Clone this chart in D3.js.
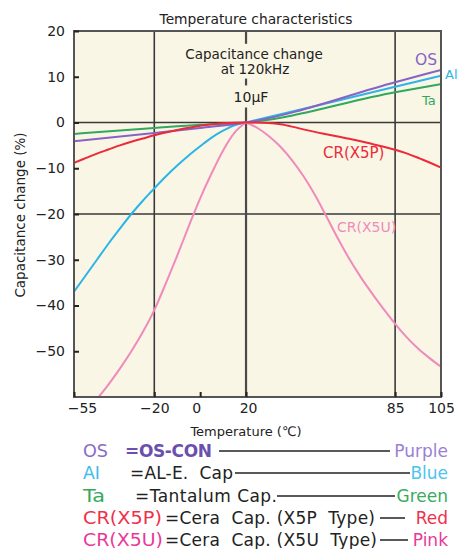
<!DOCTYPE html>
<html><head><meta charset="utf-8">
<script src="https://cdnjs.cloudflare.com/ajax/libs/d3/7.8.5/d3.min.js"></script>
<style>
html,body{margin:0;padding:0;background:#fff;}
svg text{font-family:"DejaVu Sans","Noto Sans",sans-serif;}
</style></head>
<body><div id="chart"></div>
<script>
// ---- data ----
const xTicks = [-55, -20, 0, 20, 85, 105];
const yTicks = [20, 10, 0, -10, -20, -30, -40, -50];
const xGrid = [-20, 85];
const yGrid = [0, -20];

const osTemp = [-55, -20, 0, 20, 85, 105];
const osVal  = [-4.1, -2.3, -1.2, 0, 8.8, 11.5];

const alTemp = [-55, -50, -45, -40, -35, -30, -25, -20, -15, -10, -5, 0, 5, 10, 15, 20, 85, 105];
const alVal  = [-37, -33.5, -30, -26.5, -23.2, -20, -17.1, -14.4, -11.8, -9.4, -7.2, -5.2, -3.3, -1.8, -0.6, 0, 7.8, 10.2];

const taTemp = [-55, -20, 0, 20, 85, 105];
const taVal  = [-2.5, -1.2, -0.5, 0, 6.6, 8.4];

const x5pTemp = [-55, -50, -45, -40, -35, -30, -25, -20, -15, -10, -5, 0, 5, 10, 15, 20, 25, 30, 35, 40, 45, 50, 55, 60, 65, 70, 75, 80, 85, 90, 95, 100, 105];
const x5pVal  = [-8.8, -7.8, -6.8, -5.9, -5.0, -4.2, -3.5, -2.8, -2.2, -1.65, -1.15, -0.7, -0.4, -0.15, -0.03, 0, 0, -0.1, -0.4, -0.9, -1.5, -2.05, -2.55, -3.05, -3.55, -4.1, -4.7, -5.3, -5.95, -6.75, -7.7, -8.75, -9.85];

// X5U: left branch (rising to the peak at 20 degC) and right branch (falling)
const x5uLeftTemp  = [-47, -45, -40, -35, -30, -25, -20, -15, -10, -5, 0, 5, 10, 15, 20];
const x5uLeftVal   = [-61.8, -60.5, -57.3, -53.8, -50, -45.8, -41, -35.2, -29.1, -22.7, -16.6, -11.1, -6.1, -2.2, 0];
const x5uRightTemp = [20, 25, 30, 35, 40, 45, 50, 55, 60, 65, 70, 75, 80, 85, 90, 95, 100, 105];
const x5uRightVal  = [0, -1.2, -3.0, -5.3, -8.2, -11.7, -15.8, -20.5, -25.3, -29.8, -33.8, -37.4, -40.8, -44, -46.9, -49.4, -51.5, -53.4];

const legendKeys   = ["OS", "AI", "Ta", "CR(X5P)", "CR(X5U)"];
const legendDescs  = ["=OS-CON", "=AL-E.  Cap", "=Tantalum Cap.", "=Cera  Cap. (X5P  Type)", "=Cera  Cap. (X5U  Type)"];
const legendColors = ["Purple", "Blue", "Green", "Red", "Pink"];

// ---- styles / layout ----
const lineCol = {os:"#8763c6", al:"#2db4e6", ta:"#31a85e", x5p:"#ec2a3a", x5u:"#f08abd"};
const keyCol   = ["#8a6cc8", "#3cbcec", "#36a95c", "#f0304a", "#e8399a"];
const nameCol  = ["#9b80d4", "#4cc4f0", "#3aaa5e", "#f0304a", "#e8399a"];
const keyW     = [25, 17, 22, 79, 80];
const descX    = [125, 130, 135, 165, 165];
const descW    = [87, 103, 142, 210, 212];
const lineX1   = [219, 235, 277, 380, 380];
const lineX2   = [390, 410, 395, 405, 408];
const rowY     = [457, 479, 502, 524, 546];

const W = 458, H = 549;
const svg = d3.select("#chart").append("svg").attr("width", W).attr("height", H);

const x = d3.scaleLinear().domain([-55, 105]).range([74, 441]);
const y = d3.scaleLinear().domain([-60, 20]).range([397, 31]);

// plot background
svg.append("rect").attr("x", x(-55)).attr("y", y(20))
  .attr("width", x(105) - x(-55)).attr("height", y(-60) - y(20))
  .attr("fill", "#faf6e5");

// grid lines
svg.selectAll(".vg").data(xGrid).join("line")
  .attr("x1", d => x(d)).attr("x2", d => x(d)).attr("y1", y(20)).attr("y2", y(-60))
  .attr("stroke", "#3a3a3a").attr("stroke-width", 1.6);
svg.selectAll(".hg").data(yGrid).join("line")
  .attr("x1", x(-55)).attr("x2", x(105)).attr("y1", d => y(d)).attr("y2", d => y(d))
  .attr("stroke", "#3a3a3a").attr("stroke-width", 1.6);

// vertical 20 line with gaps for the annotation text
const segs = [[20, 17.2], [9.6, 8.1], [3.3, -60]];
svg.selectAll(".v20").data(segs).join("line")
  .attr("x1", x(20)).attr("x2", x(20)).attr("y1", d => y(d[0])).attr("y2", d => y(d[1]))
  .attr("stroke", "#4a4a4a").attr("stroke-width", 2.2);

// curves
svg.append("clipPath").attr("id", "clip").append("rect")
  .attr("x", x(-55)).attr("y", y(20)).attr("width", x(105) - x(-55)).attr("height", y(-60) - y(20));
const lineMono = d3.line().x(d => x(d[0])).y(d => y(d[1])).curve(d3.curveMonotoneX);
const g = svg.append("g").attr("clip-path", "url(#clip)");
const series = [
  [taTemp, taVal, lineCol.ta],
  [alTemp, alVal, lineCol.al],
  [osTemp, osVal, lineCol.os],
  [x5uLeftTemp, x5uLeftVal, lineCol.x5u],
  [x5uRightTemp, x5uRightVal, lineCol.x5u],
  [x5pTemp, x5pVal, lineCol.x5p]
];
series.forEach(([t, v, c]) => {
  g.append("path").datum(t.map((d, i) => [d, v[i]]))
    .attr("d", lineMono).attr("fill", "none").attr("stroke", c).attr("stroke-width", 2)
    .attr("stroke-linejoin", "round");
});

// border
svg.append("rect").attr("x", x(-55)).attr("y", y(20))
  .attr("width", x(105) - x(-55)).attr("height", y(-60) - y(20))
  .attr("fill", "none").attr("stroke", "#555").attr("stroke-width", 2);

// axes
const yAxis = svg.append("g").attr("transform", `translate(${x(-55)},0)`)
  .call(d3.axisLeft(y).tickValues(yTicks).tickSizeInner(-5).tickSizeOuter(0).tickPadding(9));
yAxis.select(".domain").remove();
yAxis.selectAll(".tick line").attr("stroke", "#222").attr("stroke-width", 2);
yAxis.selectAll(".tick text").attr("font-size", 14).attr("fill", "#222")
  .style("font-family", '"DejaVu Sans", sans-serif');

const xAxis = svg.append("g").attr("transform", `translate(0,${y(-60)})`)
  .call(d3.axisBottom(x).tickValues(xTicks).tickSizeInner(-5).tickSizeOuter(0).tickPadding(6));
xAxis.select(".domain").remove();
xAxis.selectAll(".tick line").attr("stroke", "#222").attr("stroke-width", 2);
xAxis.selectAll(".tick text").attr("font-size", 14).attr("fill", "#222")
  .style("font-family", '"DejaVu Sans", sans-serif')
  .attr("dx", d => d === -55 ? 8 : d === 0 ? -4 : d === 20 ? 2 : 0);

// titles
svg.append("text").attr("x", 256).attr("y", 24).attr("text-anchor", "middle")
  .attr("font-size", 13.8).attr("fill", "#222").text("Temperature characteristics");
svg.append("text").attr("x", 246).attr("y", 436).attr("text-anchor", "middle")
  .attr("font-size", 13).attr("fill", "#222").text("Temperature  (℃)");
svg.append("text").attr("transform", "translate(25,215) rotate(-90)").attr("text-anchor", "middle")
  .attr("font-size", 13.5).attr("fill", "#222").text("Capacitance change  (%)");

// annotation
svg.append("text").attr("x", 254).attr("y", 58.5).attr("text-anchor", "middle")
  .attr("font-size", 13.5).attr("fill", "#222").text("Capacitance change");
svg.append("text").attr("x", 255).attr("y", 74.3).attr("text-anchor", "middle")
  .attr("font-size", 13.5).attr("fill", "#222").text("at 120kHz");
svg.append("text").attr("x", 251).attr("y", 102).attr("text-anchor", "middle")
  .attr("font-size", 14).attr("fill", "#222").text("10\u00b5F");

// series labels in the plot
svg.append("text").attr("x", 415).attr("y", 65).attr("font-size", 15.5).attr("fill", lineCol.os).text("OS");
svg.append("text").attr("x", 445).attr("y", 79).attr("font-size", 13).attr("fill", lineCol.al).text("Al");
svg.append("text").attr("x", 422).attr("y", 105).attr("font-size", 13).attr("fill", lineCol.ta).text("Ta");
svg.append("text").attr("x", 323).attr("y", 158).attr("font-size", 15).attr("fill", lineCol.x5p).text("CR(X5P)");
svg.append("text").attr("x", 337).attr("y", 232).attr("font-size", 14).attr("fill", lineCol.x5u).text("CR(X5U)");

// legend
const lg = svg.append("g");
legendKeys.forEach((k, i) => {
  lg.append("text").attr("x", 83).attr("y", rowY[i]).attr("font-size", 17)
    .attr("textLength", keyW[i]).attr("lengthAdjust", "spacingAndGlyphs")
    .attr("fill", keyCol[i]).text(k);
  lg.append("text").attr("x", descX[i]).attr("y", rowY[i]).attr("font-size", 17)
    .attr("textLength", descW[i]).attr("lengthAdjust", "spacing")
    .attr("fill", i === 0 ? "#6b4fae" : "#222").attr("font-weight", i === 0 ? "bold" : "normal")
    .attr("xml:space", "preserve").style("white-space", "pre").text(legendDescs[i]);
  lg.append("line").attr("x1", lineX1[i]).attr("x2", lineX2[i])
    .attr("y1", rowY[i] - 6).attr("y2", rowY[i] - 6).attr("stroke", "#222").attr("stroke-width", 1.5);
  lg.append("text").attr("x", 448).attr("y", rowY[i]).attr("font-size", 17).attr("text-anchor", "end")
    .attr("fill", nameCol[i]).text(legendColors[i]);
});
</script></body></html>
